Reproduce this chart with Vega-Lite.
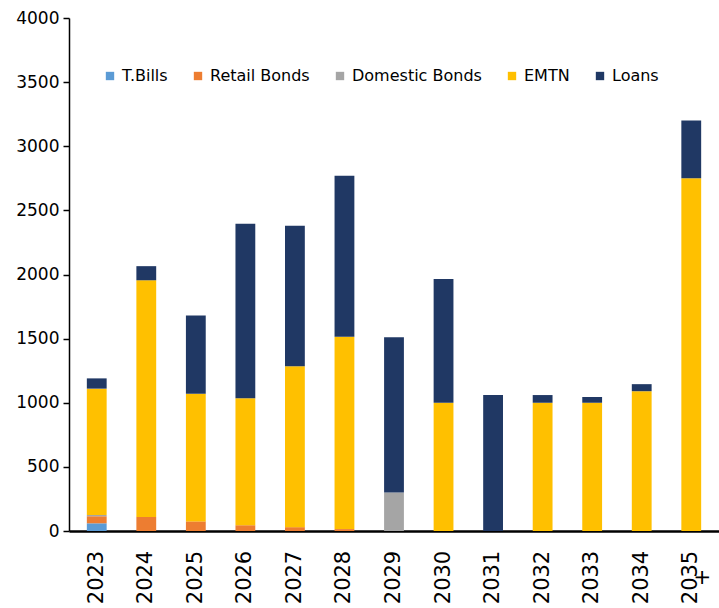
{
  "$schema": "https://vega.github.io/schema/vega-lite/v6.json",
  "width": 650,
  "height": 513,
  "autosize": {"type": "none"},
  "padding": {"left": 69, "top": 18, "right": 0, "bottom": 77},
  "background": "white",
  "config": {
    "view": {"stroke": null},
    "font": "DejaVu Sans"
  },
  "data": {
    "values": [
      {"year": "2023", "type": "T.Bills", "ord": 1, "value": 60},
      {"year": "2023", "type": "Retail Bonds", "ord": 2, "value": 55},
      {"year": "2023", "type": "Domestic Bonds", "ord": 3, "value": 10},
      {"year": "2023", "type": "EMTN", "ord": 4, "value": 985},
      {"year": "2023", "type": "Loans", "ord": 5, "value": 80},
      {"year": "2024", "type": "Retail Bonds", "ord": 2, "value": 110},
      {"year": "2024", "type": "EMTN", "ord": 4, "value": 1845},
      {"year": "2024", "type": "Loans", "ord": 5, "value": 110},
      {"year": "2025", "type": "Retail Bonds", "ord": 2, "value": 75},
      {"year": "2025", "type": "EMTN", "ord": 4, "value": 995},
      {"year": "2025", "type": "Loans", "ord": 5, "value": 610},
      {"year": "2026", "type": "Retail Bonds", "ord": 2, "value": 45},
      {"year": "2026", "type": "EMTN", "ord": 4, "value": 990},
      {"year": "2026", "type": "Loans", "ord": 5, "value": 1360},
      {"year": "2027", "type": "Retail Bonds", "ord": 2, "value": 30},
      {"year": "2027", "type": "EMTN", "ord": 4, "value": 1255},
      {"year": "2027", "type": "Loans", "ord": 5, "value": 1095},
      {"year": "2028", "type": "Retail Bonds", "ord": 2, "value": 15},
      {"year": "2028", "type": "EMTN", "ord": 4, "value": 1500},
      {"year": "2028", "type": "Loans", "ord": 5, "value": 1255},
      {"year": "2029", "type": "Domestic Bonds", "ord": 3, "value": 300},
      {"year": "2029", "type": "Loans", "ord": 5, "value": 1210},
      {"year": "2030", "type": "EMTN", "ord": 4, "value": 1000},
      {"year": "2030", "type": "Loans", "ord": 5, "value": 965},
      {"year": "2031", "type": "Loans", "ord": 5, "value": 1060},
      {"year": "2032", "type": "EMTN", "ord": 4, "value": 1000},
      {"year": "2032", "type": "Loans", "ord": 5, "value": 60},
      {"year": "2033", "type": "EMTN", "ord": 4, "value": 1000},
      {"year": "2033", "type": "Loans", "ord": 5, "value": 45},
      {"year": "2034", "type": "EMTN", "ord": 4, "value": 1090},
      {"year": "2034", "type": "Loans", "ord": 5, "value": 55},
      {"year": "2035+", "type": "EMTN", "ord": 4, "value": 2750},
      {"year": "2035+", "type": "Loans", "ord": 5, "value": 450}
    ]
  },
  "mark": {"type": "bar"},
  "encoding": {
    "x": {
      "field": "year",
      "type": "nominal",
      "sort": null,
      "scale": {"paddingInner": 0.6, "paddingOuter": 0.36},
      "axis": {
        "title": null,
        "labelAngle": -90,
        "labelAlign": "center",
        "labelBaseline": "middle",
        "labelFontSize": 21,
        "labelColor": "#000000",
        "labelPadding": 46,
        "labelExpr": "datum.value == '2035+' ? ['2035', '+'] : datum.value",
        "labelLineHeight": 12,
        "ticks": false,
        "domainColor": "#000000",
        "domainWidth": 2.5
      }
    },
    "y": {
      "field": "value",
      "type": "quantitative",
      "aggregate": "sum",
      "stack": "zero",
      "scale": {"domain": [0, 4000], "nice": false},
      "axis": {
        "title": null,
        "values": [0, 500, 1000, 1500, 2000, 2500, 3000, 3500, 4000],
        "format": "d",
        "grid": false,
        "labelFontSize": 17,
        "labelColor": "#000000",
        "labelPadding": 4,
        "tickColor": "#000000",
        "tickSize": 6,
        "tickWidth": 1.5,
        "domainColor": "#000000",
        "domainWidth": 1.5
      }
    },
    "color": {
      "field": "type",
      "type": "nominal",
      "scale": {
        "domain": ["T.Bills", "Retail Bonds", "Domestic Bonds", "EMTN", "Loans"],
        "range": ["#5B9BD5", "#ED7D31", "#A5A5A5", "#FFC000", "#203864"]
      },
      "legend": {
        "title": null,
        "orient": "none",
        "legendX": 33,
        "legendY": 50,
        "direction": "horizontal",
        "symbolType": "square",
        "symbolSize": 70,
        "symbolStrokeWidth": 0,
        "labelFontSize": 16,
        "labelColor": "#000000",
        "labelOffset": 4,
        "columnPadding": 22
      }
    },
    "order": {"field": "ord", "type": "quantitative"}
  }
}
